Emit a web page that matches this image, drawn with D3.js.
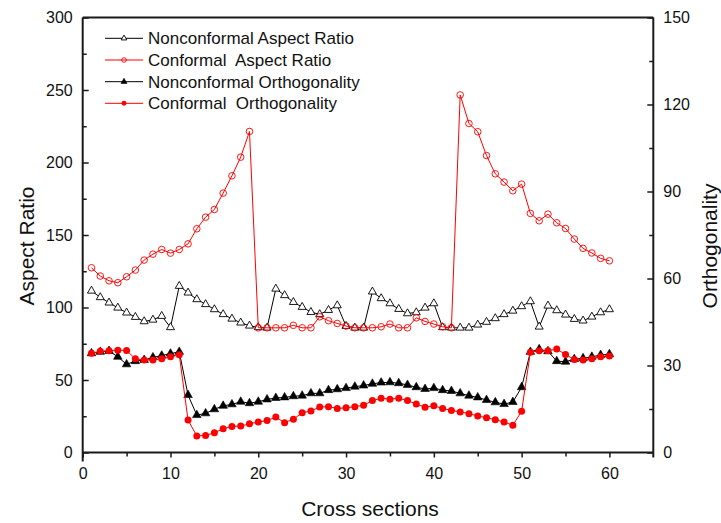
<!DOCTYPE html>
<html>
<head>
<meta charset="utf-8">
<script src="https://cdn.jsdelivr.net/npm/d3@7/dist/d3.min.js"></script>
<style>
  html, body { margin: 0; padding: 0; background: #fff; }
  svg { display: block; font-family: "Liberation Sans", Arial, sans-serif; }
</style>
</head>
<body>
<svg id="chart" width="721" height="523"></svg>
<script>
// Cross section indices 1..60
const sections = d3.range(1, 61);

// Aspect ratio (left axis)
const nonconformalAspect = [
  111.5, 107, 103.3, 99.8, 96.4, 93.4, 90.4, 91.5, 94.1, 86.3,
  114.8, 110.2, 105.6, 102.2, 98.7, 95.3, 92.2, 89.5, 87.4, 86.3,
  86, 112.9, 108.4, 103.7, 100.3, 96.8, 95.3, 98.2, 101.4, 87.2,
  86, 86, 110.9, 106.3, 102.8, 98.9, 95.9, 96.6, 99.8, 102.8,
  86.3, 86, 86, 86, 88.1, 90, 92.5, 95.3, 97.7, 100.8,
  104.2, 86.7, 101.2, 98, 95, 92, 90.9, 93.6, 96.6, 98.7
];
const conformalAspect = [
  127.4, 121.7, 118.4, 117.1, 121.2, 125.8, 132.7, 136.8, 140, 137.5,
  140, 143.9, 154.3, 162.3, 167.6, 178.9, 190.8, 203.7, 221.4, 86,
  86, 86, 86, 87.7, 86, 86, 93.6, 90.9, 89, 87.2,
  86, 86, 86, 86.7, 88.6, 86, 86, 92.9, 90.4, 88.6,
  86.7, 86, 246.6, 226.9, 221.2, 204.8, 192.2, 186.5, 180.5, 185.1,
  164.9, 159.8, 164.4, 158.4, 154.5, 147.2, 140.8, 137.6, 133.9, 132.2
];

// Orthogonality (right axis)
const nonconformalOrtho = [
  34.2, 34.7, 35, 33, 30.4, 31.5, 31.9, 32.8, 33.4, 34.1,
  34.7, 19.8, 12.9, 13.5, 14.9, 16.1, 16.6, 17.5, 17, 17.5,
  18.3, 18.8, 19, 19.4, 19.6, 20.4, 20.4, 21.5, 21.8, 22.2,
  22.7, 23.1, 23.7, 24.1, 24.2, 23.9, 23.3, 22.5, 21.9, 22.2,
  21.5, 21.2, 20.4, 19.6, 19, 18.1, 17.3, 16.7, 17.4, 22.5,
  34.7, 35.6, 34.9, 31.5, 31.3, 32.2, 32.5, 33, 33.6, 33.9
];
const conformalOrtho = [
  34.2, 34.9, 35.1, 35.3, 35.2, 32.3, 31.9, 31.9, 32.3, 33,
  33.7, 11.2, 5.7, 5.9, 6.8, 8.2, 9, 9.1, 9.9, 10.5,
  11, 12.2, 10.3, 11.5, 13.7, 14.3, 15.7, 15.8, 15.2, 15.4,
  15.8, 16.3, 17.9, 18.7, 18.4, 18.7, 17.9, 16.7, 15.6, 16.1,
  15.2, 14.5, 14, 13.4, 12.6, 12, 11.3, 10.5, 9.4, 14.2,
  34.6, 35.1, 35.1, 35.7, 33.8, 32.1, 31.9, 32.3, 33, 33.3
];

const xTicks = [0, 10, 20, 30, 40, 50, 60];
const xMinorTicks = [5, 15, 25, 35, 45, 55];
const leftTicks = [0, 50, 100, 150, 200, 250, 300];
const leftMinorTicks = [25, 75, 125, 175, 225, 275];
const rightTicks = [0, 30, 60, 90, 120, 150];
const rightMinorTicks = [15, 45, 75, 105, 135];

const seriesNames = [
  "Nonconformal Aspect Ratio",
  "Conformal  Aspect Ratio",
  "Nonconformal Orthogonality",
  "Conformal  Orthogonality"
];

const plotLeft = 82.7, plotRight = 653.3, plotTop = 17.5, plotBottom = 452.5;

const svg = d3.select("#chart");
const x = d3.scaleLinear().domain([0, 65]).range([plotLeft, plotRight]);
const yL = d3.scaleLinear().domain([0, 300]).range([plotBottom, plotTop]);
const yR = d3.scaleLinear().domain([0, 150]).range([plotBottom, plotTop]);

const axisColor = "#1a1a1a";
const tickFont = 16;

// ---- axes ----
function styleAxis(g) {
  g.select(".domain").remove();
  g.selectAll(".tick line").attr("stroke", axisColor).attr("stroke-width", 1.5);
  g.selectAll(".tick text").attr("fill", "#111").style("font-size", tickFont + "px")
    .style("font-family", '"Liberation Sans", Arial, sans-serif');
}

svg.append("g").attr("transform", `translate(${plotLeft},0)`)
  .call(d3.axisLeft(yL).tickValues(leftTicks).tickSize(-6).tickPadding(10).tickFormat(d3.format("d")))
  .call(styleAxis);
svg.append("g").attr("transform", `translate(${plotLeft},0)`)
  .call(d3.axisLeft(yL).tickValues(leftMinorTicks).tickSize(-4).tickFormat(""))
  .call(styleAxis);

svg.append("g").attr("transform", `translate(${plotRight},0)`)
  .call(d3.axisRight(yR).tickValues(rightTicks).tickSize(-6).tickPadding(10).tickFormat(d3.format("d")))
  .call(styleAxis);
svg.append("g").attr("transform", `translate(${plotRight},0)`)
  .call(d3.axisRight(yR).tickValues(rightMinorTicks).tickSize(-4).tickFormat(""))
  .call(styleAxis);

svg.append("g").attr("transform", `translate(0,${plotBottom})`)
  .call(d3.axisBottom(x).tickValues(xTicks).tickSize(5).tickPadding(10).tickFormat(d3.format("d")))
  .call(styleAxis);
svg.append("g").attr("transform", `translate(0,${plotBottom})`)
  .call(d3.axisBottom(x).tickValues(xMinorTicks).tickSize(4).tickFormat(""))
  .call(styleAxis);

// frame lines
const frame = svg.append("g").attr("stroke", axisColor).attr("stroke-width", 2).attr("fill", "none");
frame.append("line").attr("x1", plotLeft).attr("x2", plotLeft).attr("y1", plotTop).attr("y2", plotBottom + 9);
frame.append("line").attr("x1", plotRight).attr("x2", plotRight).attr("y1", plotTop).attr("y2", plotBottom + 5);
frame.append("line").attr("x1", plotLeft).attr("x2", plotRight).attr("y1", plotTop).attr("y2", plotTop);
frame.append("line").attr("x1", plotLeft).attr("x2", plotRight).attr("y1", plotBottom).attr("y2", plotBottom);

// ---- axis titles ----
svg.append("text")
  .attr("transform", `translate(33.5,246) rotate(-90)`)
  .attr("text-anchor", "middle").style("font-size", "21px").attr("fill", "#111")
  .text("Aspect Ratio");
svg.append("text")
  .attr("transform", `translate(717,246) rotate(-90)`)
  .attr("text-anchor", "middle").style("font-size", "21px").attr("fill", "#111")
  .text("Orthogonality");
svg.append("text")
  .attr("x", 370).attr("y", 515.5)
  .attr("text-anchor", "middle").style("font-size", "21px").attr("fill", "#111")
  .text("Cross sections");

// ---- series ----
const series = [
  { name: seriesNames[0], values: nonconformalAspect, y: yL, color: "#000", marker: "triOpen" },
  { name: seriesNames[1], values: conformalAspect, y: yL, color: "#ff0000", marker: "circOpen" },
  { name: seriesNames[2], values: nonconformalOrtho, y: yR, color: "#000", marker: "triFill" },
  { name: seriesNames[3], values: conformalOrtho, y: yR, color: "#ff0000", marker: "circFill" }
];

const tri = d3.symbol().type(d3.symbolTriangle);

function drawMarker(g, kind, color, scale) {
  const s = scale || 1;
  if (kind === "triOpen") {
    g.append("path").attr("d", tri.size(28 * s * s)()).attr("fill", "#fff")
      .attr("stroke", color).attr("stroke-width", 0.9);
  } else if (kind === "triFill") {
    g.append("path").attr("d", tri.size(32 * s * s)()).attr("fill", color)
      .attr("stroke", color).attr("stroke-width", 0.6);
  } else if (kind === "circOpen") {
    g.append("circle").attr("r", 3.3 * s).attr("fill", "none")
      .attr("stroke", color).attr("stroke-width", 0.9);
  } else {
    g.append("circle").attr("r", 3.5 * s).attr("fill", color);
  }
}

series.forEach(s => {
  const pts = sections.map((c, i) => [c, s.values[i]]);
  const line = d3.line().x(d => x(d[0])).y(d => s.y(d[1]));
  const g = svg.append("g");
  g.append("path").datum(pts).attr("d", line)
    .attr("fill", "none").attr("stroke", s.color).attr("stroke-width", 1);
  g.selectAll("g.m").data(pts).join("g").attr("class", "m")
    .attr("transform", d => `translate(${x(d[0])},${s.y(d[1])})`)
    .each(function () { drawMarker(d3.select(this), s.marker, s.color); });
});

// ---- legend ----
const legend = svg.append("g");
const rowY = [38.3, 60, 81.7, 103.3];
series.forEach((s, i) => {
  const row = legend.append("g").attr("transform", `translate(0,${rowY[i]})`);
  row.append("line").attr("x1", 105).attr("x2", 143).attr("y1", 0).attr("y2", 0)
    .attr("stroke", s.color).attr("stroke-width", 1);
  const m = row.append("g").attr("transform", "translate(124,0)");
  drawMarker(m, s.marker, s.color, 0.7);
  row.append("text").attr("x", 148).attr("y", 6)
    .style("font-size", "17px").style("white-space", "pre").attr("fill", "#111")
    .text(s.name);
});
</script>
</body>
</html>
